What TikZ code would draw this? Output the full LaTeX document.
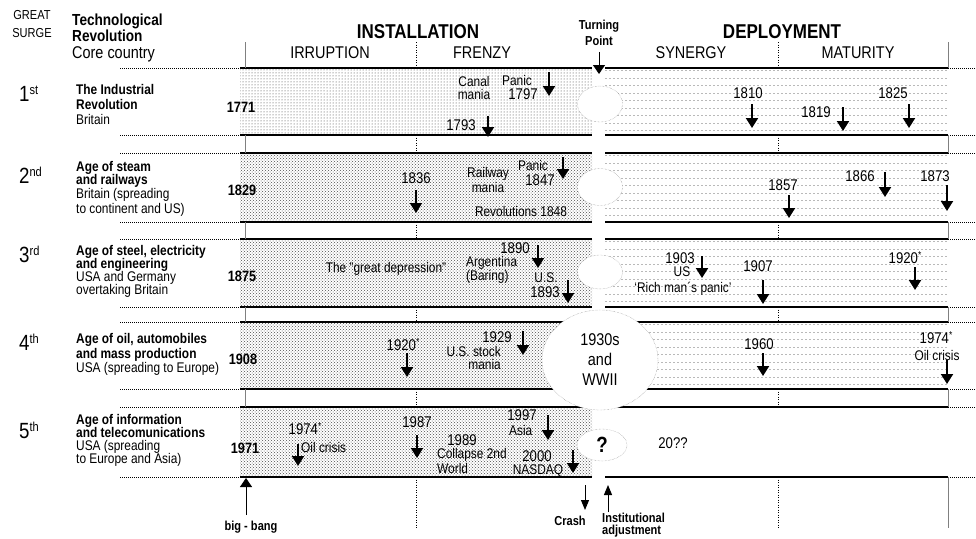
\documentclass[tikz,border=0pt]{standalone}
\usepackage{fontspec}
\setmainfont{Liberation Sans}[FakeStretch=0.85]
\usetikzlibrary{arrows.meta,patterns,shapes.geometric}
\newcommand{\fsz}[2]{\fontsize{#1}{#2}\selectfont}
\newcommand{\surge}[2]{\fsz{22}{22}#1\raisebox{6.5pt}{\fsz{13}{13}#2}}
\newcommand{\astr}{\raisebox{5pt}{\fsz{10}{10}*}}

\begin{document}
\begin{tikzpicture}[x=1pt,y=-1pt,>=Triangle]
\tikzstyle{yr}=[inner sep=0pt,font=\fsz{15.5}{16}]
\tikzstyle{ev}=[inner sep=0pt,font=\fsz{14}{13},align=center]
\tikzstyle{start}=[inner sep=0pt,font=\fsz{15}{15}\bfseries]
\tikzstyle{lbl}=[inner sep=0pt,anchor=north west,align=left,font=\fsz{14}{15}]
\tikzstyle{phase}=[inner sep=0pt,font=\fsz{17}{17}]
\tikzstyle{ar}=[-{Triangle[width=12pt,length=10pt]},line width=2pt]
\tikzstyle{thinar}=[-{Triangle[width=8pt,length=10pt]},line width=1pt]
\tikzstyle{midar}=[-{Triangle[width=12pt,length=9pt]},line width=1pt]
\tikzstyle{band}=[line width=1.3pt]
\tikzstyle{ext}=[dash pattern=on 1pt off 1pt,line width=0.8pt]
\tikzstyle{sep}=[gray,line width=1pt]
\tikzstyle{dsep}=[dash pattern=on 1pt off 1.5pt,line width=0.6pt]
\tikzstyle{hole}=[ellipse,draw=gray,densely dotted,fill=white,inner sep=0pt]
\useasboundingbox (0,0) rectangle (976,538);

% shading
\fill[pattern=dots,pattern color=black!80] (240,68) rectangle (592,135);
\foreach \t/\b in {153/222,239/307,322/389,407/477}
  \fill[pattern=crosshatch dots,pattern color=black!70] (240,\t) rectangle (592,\b);
\foreach \t in {68,153,239,322}
  \foreach \k in {0,...,8}
    \draw[gray!55,dash pattern=on 1.5pt off 2.5pt,line width=0.5pt] (605,{\t+2.5+7.5*\k}) -- (948,{\t+2.5+7.5*\k});

% bands and separators
\foreach \y in {68,135,153,222,239,307,322,389,407,477} {
  \draw[band] (240,\y) -- (592,\y);
  \draw[band] (605,\y) -- (948,\y);
  \draw[ext] (120,\y) -- (240,\y);
  \draw[ext] (948,\y) -- (976,\y);
}
\foreach \a/\b in {42/68,135/153,222/239,307/322,389/407} {
  \draw[sep] (245,\a) -- (245,\b);
  \draw[sep] (948,\a) -- (948,\b);
  \draw[dsep] (416,\a) -- (416,\b);
  \draw[dsep] (778,\a) -- (778,\b);
}
\draw[sep] (948,477) -- (948,528);
\draw[dsep] (416,477) -- (416,528);
\draw[dsep] (778,477) -- (778,528);

% header
\node[font=\fsz{13}{18},align=center,inner sep=0pt] (surge) at (32,24) {GREAT\\SURGE};
\node[font=\fsz{16}{14}\bfseries,align=left,anchor=north west,inner sep=0pt] (techrev) at (72,14) {Technological\\Revolution};
\node[font=\fsz{17}{17},anchor=base west,inner sep=0pt] (core) at (72,58) {Core country};
\node[font=\fsz{20}{20}\bfseries,inner sep=0pt] (inst) at (418,32) {INSTALLATION};
\node[font=\fsz{20}{20}\bfseries,inner sep=0pt] (depl) at (782,32) {DEPLOYMENT};
\foreach \n/\x/\t in {irr/330/IRRUPTION,fre/482/FRENZY,syn/691/SYNERGY,mat/858/MATURITY}
  \node[phase] (\n) at (\x,53) {\t};
\node[font=\fsz{13}{16}\bfseries,align=center,inner sep=0pt] (turn) at (599,33) {Turning\\Point};
\coordinate (turnT) at (599,74);
\draw[midar] ([yshift=-6pt]turn.south) -- (turnT);

% surges
\foreach \n/\y/\o/\s in {s1/101/1/st,s2/183/2/nd,s3/262/3/rd,s4/350/4/th,s5/438/5/th}
  \node[anchor=base west,inner sep=0pt] (\n) at (19,\y) {\surge{\o}{\s}};
\node[lbl] (rev1) at (76,84) {\textbf{The Industrial}\\\textbf{Revolution}\\Britain};
\node[lbl] (rev2) at (76,161) {\textbf{Age of steam}\\[-2pt]\textbf{and railways}\\[-1pt]Britain (spreading\\to continent and US)};
\node[lbl] (rev3) at (76,245) {\textbf{Age of steel, electricity}\\[-2pt]\textbf{and engineering}\\[-2pt]USA and Germany\\[-2pt]overtaking Britain};
\node[lbl] (rev4) at (76,333) {\textbf{Age of oil, automobiles}\\\textbf{and mass production}\\[-1pt]USA (spreading to Europe)};
\node[lbl] (rev5) at (76,414) {\textbf{Age of information}\\[-2pt]\textbf{and telecomunications}\\[-2pt]USA (spreading\\[-2pt]to Europe and Asia)};
\foreach \n/\x/\y/\t in {y1/241/107/1771,y2/242/190/1829,y3/242/276/1875,y4/243/359/1908,y5/245/448/1971}
  \node[start] (\n) at (\x,\y) {\t};

% events
\foreach \n/\x/\y/\t in {e1793/461/125/1793,e1797/523/94/1797,e1810/748/93/1810,e1819/816/112/1819,
  e1825/893/93/1825,e1836/416/178/1836,e1847/540/180/1847,e1857/783/185/1857,e1866/860/176/1866,
  e1873/935/176/1873,e1890/515/248/1890,e1893/545/292/1893,e1903/680/258/1903,e1907/758/266/1907,
  e1920a/905/258/{1920\astr},e1920b/403/345/{1920\astr},e1929/497/337/1929,e1960/759/344/1960,
  e1974a/936/338/{1974\astr},e1974b/305/429/{1974\astr},e1987/417/422/1987,e1989/462/440/1989,
  e1997/522/415/1997,e2000/537/456/2000,e20qq/673/443/20??}
  \node[yr] (\n) at (\x,\y) {\t};
\node[ev] (canal) at (474,88) {Canal\\mania};
\node[ev] (panic1) at (517,80) {Panic};
\node[ev] (railway) at (488,180) {Railway\\mania};
\node[ev] (panic2) at (533,165) {Panic};
\node[ev] (rev48) at (521,211) {Revolutions 1848};
\node[ev] (greatdep) at (386,269) {The "great depression"};
\node[ev,anchor=west,align=left] (argentina) at (466,270) {Argentina\\(Baring)};
\node[ev] (us1893) at (546,278) {U.S.};
\node[ev] (us1903) at (682,272) {US};
\node[ev] (rich) at (683,289) {`Rich man´s panic'};
\node[ev,anchor=east,align=right] (usstock) at (501,358) {U.S. stock\\mania};
\node[ev] (oil4) at (937,355) {Oil crisis};
\node[ev,anchor=west] (oil5) at (301,447) {Oil crisis};
\node[ev,anchor=west,align=left,font=\fsz{14}{11}] (collapse) at (437,461) {Collapse 2nd\\World};
\node[ev,anchor=west] (asia) at (509,430) {Asia};
\node[ev] (nasdaq) at (538,471) {NASDAQ};
\foreach \n/\x/\ya/\yb in {a1797/549/72/96,a1793/488/116/137,a1810/752/104/128,a1819/843/107/131,
  a1825/909/104/128,a1836/416/190/213,a1847/563/157/179,a1857/789/195/218,a1866/885/172/197,
  a1873/947/185/211,a1890/538/245/268,a1893/568/280/303,a1903/702/256/278,a1907/763/280/304,
  a1920a/915/267/290,a1920b/407/353/377,a1929/523/331/355,a1960/763/353/376,a1974a/947/360/384,
  a1974b/298/444/466,a1987/417/435/458,a1997/548/415/440,a2000/573/450/473} {
  \coordinate (\n-s) at (\x,\ya);
  \coordinate (\n-e) at (\x,\yb);
  \draw[ar] (\n-s) -- (\n-e);
}

% turning points
\node[hole,minimum width=45pt,minimum height=36pt] (tp1) at (600,104) {};
\node[hole,minimum width=45pt,minimum height=37pt] (tp2) at (600,187) {};
\node[hole,minimum width=45pt,minimum height=34pt] (tp3) at (600,272) {};
\node[hole,minimum width=116pt,minimum height=100pt,font=\fsz{17}{20},align=center] (tp4) at (600,360) {1930s\\and\\WWII};
\node[hole,minimum width=50pt,minimum height=32pt,font=\fsz{22}{22}\bfseries] (tp5) at (602,445) {?};

% bottom
\coordinate (bbS) at (246,515);
\coordinate (bbT) at (246,478);
\draw[midar] (bbS) -- (bbT);
\node[font=\fsz{13}{13}\bfseries,inner sep=0pt] (bigbang) at (251,527) {big - bang};
\coordinate (crS) at (585,485);
\coordinate (crT) at (585,510);
\draw[thinar] (crS) -- (crT);
\node[font=\fsz{13}{13}\bfseries,inner sep=0pt] (crash) at (570,521) {Crash};
\coordinate (inS) at (608,512);
\coordinate (inT) at (608,485);
\draw[thinar] (inS) -- (inT);
\node[font=\fsz{13}{12}\bfseries,align=left,anchor=north west,inner sep=0pt] (adjust) at (602,513) {Institutional\\adjustment};
\end{tikzpicture}
\end{document}
